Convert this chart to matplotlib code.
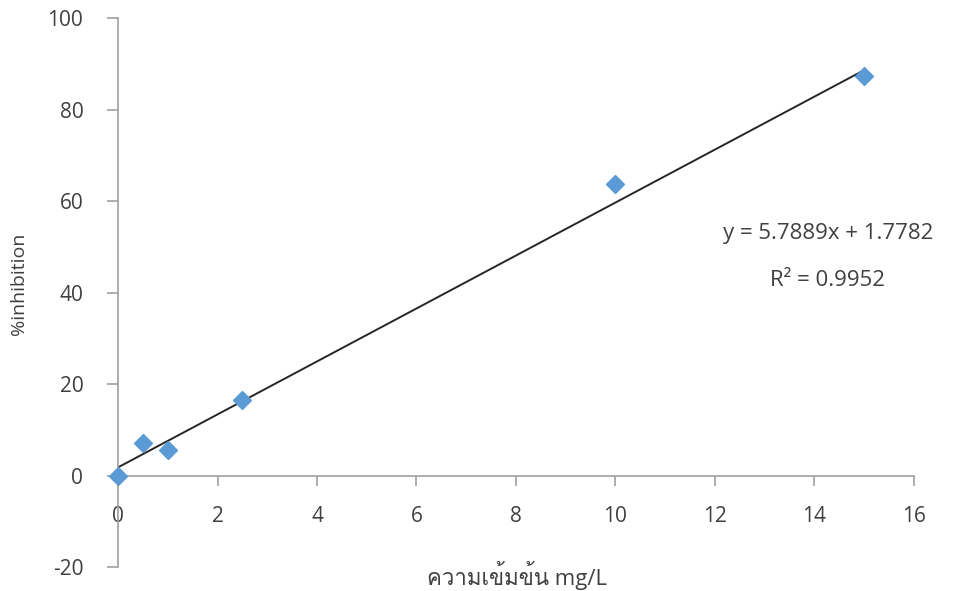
import matplotlib
matplotlib.use("Agg")
import matplotlib.pyplot as plt
import numpy as np

# ---- data ----
conc = [0, 0.5, 1, 2.5, 10, 15]
inhibition = [0.0, 7.0, 5.5, 16.4, 63.8, 87.3]
slope = 5.7889
intercept = 1.7782
r2 = 0.9952
x_ticks = [0, 2, 4, 6, 8, 10, 12, 14, 16]
y_ticks = [-20, 0, 20, 40, 60, 80, 100]
x_label = "ความเข้มข้น mg/L"
y_label = "%inhibition"

text_color = "#404040"
axis_color = "#a0a0a0"
families = ["Open Sans", "Loma", "DejaVu Sans"]
plt.rcParams['font.family'] = families
plt.rcParams['axes.unicode_minus'] = False

fig = plt.figure(figsize=(9.58, 5.91), dpi=100)
ax = fig.add_axes([0.1232, 0.0406, 0.954 - 0.1232, 0.9695 - 0.0406])

xs = np.array([0, 15])
ax.plot(xs, slope * xs + intercept, color="#262626", lw=1.4, zorder=2)
ax.plot(conc, inhibition, linestyle="none", marker="D", markersize=9,
        color="#5b9bd5", zorder=3, clip_on=False)

ax.set_xlim(0, 16)
ax.set_ylim(-20, 100)
ax.set_xticks(x_ticks)
ax.set_yticks(y_ticks)
ax.spines['top'].set_visible(False)
ax.spines['right'].set_visible(False)
ax.spines['bottom'].set_position(('data', 0))
for s in ('left', 'bottom'):
    ax.spines[s].set_color(axis_color)
    ax.spines[s].set_linewidth(1.2)
ax.tick_params(axis='x', direction='out', length=7, width=1.2, color=axis_color,
               labelsize=15, labelcolor=text_color, pad=15)
ax.tick_params(axis='y', direction='out', length=8, width=1.2, color=axis_color,
               labelsize=15, labelcolor=text_color, pad=17)

fig.text(517 / 958, 1 - 575 / 591, x_label, ha='center', va='center',
         fontsize=16, color=text_color, family=families)
fig.text(19 / 958, 1 - 284 / 591, y_label, ha='center', va='center',
         rotation=90, fontsize=14, color=text_color)

ax.text(14.27, 53.0, f"y = {slope}x + {intercept}", ha='center', va='center',
        fontsize=16, color=text_color)
ax.text(14.27, 42.6, f"R² = {r2}", ha='center', va='center',
        fontsize=16, color=text_color)

fig.savefig("out.png", dpi=100)
